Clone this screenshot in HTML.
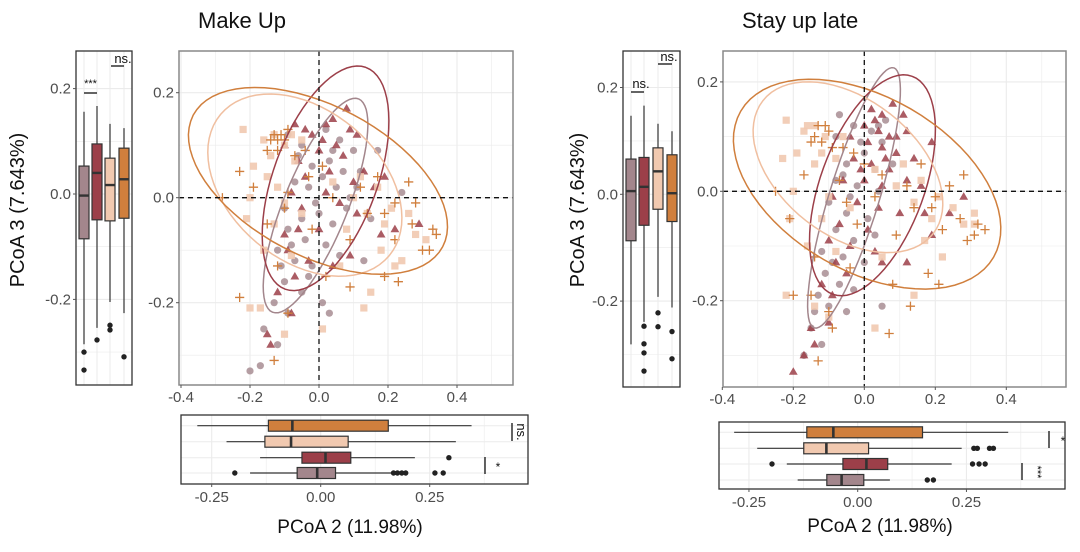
<!DOCTYPE html>
<html><head><meta charset="utf-8"><style>
html,body{margin:0;padding:0;background:#fff;}
svg{display:block;font-family:"Liberation Sans",Arial,sans-serif;}
</style></head><body>
<svg id="fig" width="1080" height="552" viewBox="0 0 1080 552" xmlns="http://www.w3.org/2000/svg">
<text x="198" y="28" font-size="22" fill="#111">Make Up</text>
<text x="742" y="28" font-size="22" fill="#111">Stay up late</text>
</svg>
<script>
// ---------- DATA ----------
const groupNames = ['mauve','red','light','orange'];
const groupColors = ['#a3868c','#9c3f49','#f1c9b0','#d07f3d'];
const scatterXTicks = [-0.4,-0.2,0.0,0.2,0.4];
const scatterXTickLabels = ['-0.4','-0.2','0.0','0.2','0.4'];
const scatterYTicks = [0.2,0.0,-0.2];
const scatterYTickLabels = ['0.2','0.0','-0.2'];
const hboxTicks = [-0.25,0,0.25];
const hboxTickLabels = ['-0.25','0.00','0.25'];

// Make Up: vertical box stats [whiskerLo,q1,median,q3,whiskerHi] per group
const muVBoxes = [[-0.285,-0.085,-0.003,0.053,0.156],[-0.254,-0.049,0.040,0.095,0.167],[-0.205,-0.051,0.017,0.068,0.133],[-0.226,-0.046,0.028,0.087,0.125]];
const muVOutliers = [[-0.30,-0.334],[-0.277],[-0.249,-0.258],[-0.309]];
// Make Up: horizontal box stats (rows top->bottom: orange, light, red, mauve)
const muHBoxes = [[-0.283,-0.120,-0.065,0.155,0.346],[-0.216,-0.128,-0.068,0.063,0.310],[-0.139,-0.043,0.011,0.069,0.216],[-0.162,-0.054,-0.008,0.034,0.164]];
const muHOutliers = [[],[],[0.294],[-0.197,0.167,0.176,0.186,0.195,0.262,0.281]];
const muEllCenters = [[-0.010,-0.015],[0.019,0.037],[-0.041,0.024],[-0.003,0.032]];
const muEllAxes = [[115,32,-68],[118,52,-70],[110,75,40],[141,75,27.8]];

const muMauve = [[-0.09,0.12],[-0.05,0.10],[0.02,0.13],[0.06,0.11],[0.10,0.09],[0.12,0.05],[-0.02,0.06],[0.03,0.07],[-0.07,0.03],[-0.03,0.02],[0.01,0.04],[0.05,0.02],[0.09,0.00],[-0.10,-0.02],[-0.05,-0.04],[0.00,-0.03],[0.04,-0.05],[0.08,-0.02],[-0.09,-0.06],[-0.04,-0.08],[0.02,-0.09],[-0.12,-0.10],[-0.07,-0.12],[-0.02,-0.13],[0.06,-0.11],[-0.10,-0.16],[-0.05,-0.18],[0.01,-0.20],[-0.13,-0.20],[-0.09,-0.22],[-0.16,-0.25],[-0.12,-0.28],[-0.17,-0.32],[-0.20,-0.33],[0.03,-0.22],[0.13,-0.12],[0.15,-0.04],[0.17,0.09],[0.24,0.01],[-0.06,0.08],[-0.01,-0.01],[0.07,0.05],[-0.08,-0.09],[-0.03,-0.15],[0.04,0.09],[-0.11,-0.13],[0.11,0.02]];
const muRed = [[-0.07,0.14],[-0.02,0.12],[0.04,0.15],[0.08,0.17],[0.11,0.12],[0.05,0.10],[-0.10,0.10],[0.00,0.09],[0.07,0.08],[0.13,0.05],[-0.04,0.04],[0.03,0.05],[0.10,0.03],[0.19,0.04],[-0.08,0.01],[0.02,0.01],[0.06,-0.01],[0.16,0.02],[-0.06,-0.06],[0.00,-0.06],[0.11,-0.03],[-0.09,-0.10],[-0.03,-0.12],[0.04,-0.13],[0.09,-0.11],[-0.07,-0.15],[-0.12,-0.18],[-0.08,-0.22],[-0.15,-0.26],[-0.14,-0.28],[0.22,-0.06],[0.29,-0.05],[0.18,-0.07],[-0.04,0.13],[0.01,0.11],[-0.05,-0.02],[0.02,0.14],[-0.06,0.07],[0.09,0.13],[-0.10,-0.07]];
const muLight = [[-0.22,0.13],[-0.16,0.11],[-0.13,0.12],[-0.10,0.10],[-0.05,0.11],[-0.19,0.06],[-0.15,0.04],[-0.12,0.02],[-0.07,0.07],[0.04,0.03],[0.12,0.04],[0.17,0.02],[-0.20,0.00],[-0.10,-0.01],[0.10,0.00],[0.14,-0.03],[0.21,-0.02],[0.26,-0.03],[-0.21,-0.04],[-0.13,-0.05],[-0.05,-0.03],[0.19,-0.05],[0.28,-0.07],[0.31,-0.08],[-0.16,-0.10],[-0.08,-0.11],[0.06,-0.13],[0.18,-0.10],[0.22,-0.13],[-0.20,-0.21],[-0.17,-0.21],[0.15,-0.18],[0.13,-0.21],[0.01,-0.25],[-0.10,-0.26],[0.24,-0.12],[-0.08,0.12],[-0.14,0.08],[0.08,-0.06]];
const muOrange = [[-0.13,0.12],[-0.11,0.12],[-0.10,0.11],[-0.09,0.13],[-0.15,0.09],[-0.12,0.09],[-0.07,0.08],[-0.04,0.09],[-0.03,0.04],[0.01,0.06],[-0.23,0.05],[-0.19,0.02],[0.17,0.04],[0.26,0.03],[-0.09,0.01],[0.12,0.02],[0.22,-0.01],[0.28,-0.01],[-0.28,0.00],[-0.10,-0.02],[0.04,0.00],[0.14,-0.03],[0.19,-0.03],[0.27,-0.05],[0.33,-0.06],[0.34,-0.07],[-0.15,-0.05],[-0.02,-0.06],[0.09,-0.08],[0.22,-0.08],[0.30,-0.10],[0.32,-0.10],[-0.12,-0.13],[0.02,-0.15],[0.09,-0.17],[0.19,-0.15],[0.23,-0.16],[-0.23,-0.19],[-0.09,-0.22],[-0.13,-0.31],[-0.12,0.11],[-0.14,0.11]];

// Stay up late
const slVBoxes = [[-0.281,-0.087,0.006,0.066,0.147],[-0.239,-0.058,0.014,0.069,0.166],[-0.192,-0.028,0.043,0.087,0.132],[-0.212,-0.051,0.002,0.074,0.118]];
const slVOutliers = [[],[-0.247,-0.280,-0.297,-0.331],[-0.222,-0.248],[-0.257,-0.308]];
const slHBoxes = [[-0.284,-0.117,-0.056,0.149,0.346],[-0.231,-0.124,-0.072,0.025,0.239],[-0.163,-0.034,0.020,0.069,0.216],[-0.138,-0.071,-0.037,0.014,0.074]];
const slHOutliers = [[],[0.267,0.275,0.303,0.312],[-0.197,0.264,0.279,0.293],[0.160,0.174]];
const slEllCenters = [[-0.029,-0.012],[0.023,0.011],[-0.046,0.044],[0.008,0.013]];
const slEllAxes = [[136,25,-73],[116,52,-70],[108,68,38],[146,87,30]];

const slMauve = [[-0.07,0.14],[-0.03,0.12],[0.02,0.11],[0.05,0.09],[0.00,0.07],[-0.05,0.05],[0.03,0.04],[-0.08,0.02],[-0.02,0.01],[0.04,0.00],[-0.10,-0.02],[-0.05,-0.04],[0.01,-0.05],[-0.08,-0.07],[-0.03,-0.09],[0.03,-0.08],[-0.12,-0.11],[-0.06,-0.12],[0.00,-0.13],[-0.11,-0.15],[-0.07,-0.17],[-0.03,-0.18],[-0.13,-0.19],[-0.10,-0.21],[-0.05,-0.22],[0.05,-0.21],[-0.15,-0.25],[-0.12,-0.28],[-0.17,-0.30],[-0.08,0.10],[0.06,0.13],[-0.01,0.09],[-0.04,-0.01],[0.08,0.05],[-0.09,-0.13],[-0.14,-0.22],[0.04,0.12],[-0.06,0.03]];
const slRed = [[0.02,0.15],[0.05,0.14],[0.08,0.16],[0.11,0.14],[0.00,0.12],[0.04,0.11],[0.07,0.10],[0.12,0.11],[-0.04,0.10],[0.01,0.09],[0.05,0.08],[0.09,0.07],[0.14,0.06],[0.19,0.09],[-0.03,0.06],[0.02,0.05],[0.07,0.04],[0.12,0.02],[-0.06,0.02],[0.00,0.02],[0.05,0.01],[0.16,0.01],[-0.09,-0.01],[-0.02,-0.02],[0.04,-0.03],[0.10,-0.04],[0.17,-0.04],[-0.07,-0.06],[0.01,-0.07],[-0.10,-0.09],[-0.04,-0.10],[0.03,-0.11],[-0.08,-0.13],[0.05,-0.13],[-0.12,-0.17],[-0.05,-0.15],[-0.09,-0.19],[-0.15,-0.25],[-0.10,-0.24],[-0.14,-0.28],[-0.17,-0.30],[-0.20,-0.33],[0.28,-0.01],[0.24,-0.04],[0.19,-0.08],[0.12,-0.13],[0.03,0.13],[0.06,0.06],[-0.01,0.04],[0.09,0.10]];
const slLight = [[-0.22,0.13],[-0.17,0.11],[-0.14,0.12],[-0.11,0.10],[-0.06,0.10],[-0.19,0.07],[-0.14,0.05],[-0.23,0.06],[-0.08,0.06],[0.03,0.04],[0.11,0.05],[0.16,0.02],[-0.20,0.00],[-0.10,-0.01],[0.09,0.01],[0.14,-0.02],[0.21,-0.01],[0.25,-0.03],[-0.21,-0.05],[-0.12,-0.05],[-0.04,-0.03],[0.19,-0.05],[0.28,-0.06],[0.31,-0.06],[-0.16,-0.10],[-0.08,-0.11],[0.05,-0.12],[0.17,-0.09],[0.22,-0.12],[-0.22,-0.19],[-0.14,-0.21],[0.14,-0.19],[0.03,-0.25],[-0.10,-0.23],[0.31,-0.04],[-0.16,0.12],[-0.12,0.07]];
const slOrange = [[-0.13,0.12],[-0.11,0.12],[-0.10,0.11],[-0.12,0.09],[-0.15,0.09],[-0.09,0.08],[-0.06,0.08],[-0.03,0.07],[0.00,0.05],[-0.17,0.03],[-0.07,0.02],[0.05,0.03],[0.16,0.05],[0.24,0.01],[-0.25,0.00],[0.12,0.01],[0.20,-0.01],[0.28,0.03],[-0.05,-0.02],[0.03,-0.01],[0.14,-0.03],[0.19,-0.03],[0.27,-0.05],[0.32,-0.06],[0.34,-0.07],[-0.21,-0.05],[-0.02,-0.06],[0.09,-0.08],[0.22,-0.07],[0.29,-0.09],[0.31,-0.08],[-0.14,-0.12],[-0.04,-0.14],[0.08,-0.17],[0.18,-0.15],[0.21,-0.17],[-0.20,-0.19],[-0.15,-0.19],[0.07,-0.26],[-0.09,-0.25],[-0.13,-0.31],[0.13,-0.21],[-0.10,-0.22],[-0.14,0.10]];

// ---------- DRAWING ----------
const NS='http://www.w3.org/2000/svg';
const svg=document.getElementById('fig');
function mk(tag,attrs,parent){const e=document.createElementNS(NS,tag);for(const k in attrs)e.setAttribute(k,attrs[k]);(parent||svg).appendChild(e);return e;}
function txt(s,attrs,parent){const e=mk('text',attrs,parent);e.textContent=s;return e;}
const TF=15;

function drawScatter(P,sets,ellC,ellA,tag){
  const g=mk('g',{});
  
  
  const X=v=>P.x0+v*P.kx, Y=v=>P.y0-v*P.ky;
  mk('rect',{x:P.l,y:P.t,width:P.r-P.l,height:P.b-P.t,fill:'#fff'},g);
  for(let v=-0.5;v<=0.6;v+=0.1){const px=X(v);if(px<P.l||px>P.r)continue;
    const maj=Math.abs(Math.round(v*10))%2===0;
    mk('line',{x1:px,x2:px,y1:P.t,y2:P.b,stroke:'#ebebeb','stroke-width':maj?1.1:0.6},g);}
  for(let v=-0.4;v<=0.31;v+=0.1){const py=Y(v);if(py<P.t||py>P.b)continue;
    const maj=Math.abs(Math.round(v*10))%2===0;
    mk('line',{x1:P.l,x2:P.r,y1:py,y2:py,stroke:'#ebebeb','stroke-width':maj?1.1:0.6},g);}
  const shapes=['circle','tri','square','plus'];
  sets.forEach((pts,gi)=>{
    const sg=mk('g',{},g);
    
    
    pts.forEach(p=>{
      const px=X(p[0]),py=Y(p[1]);let e;
      if(shapes[gi]==='circle')e=mk('circle',{cx:px,cy:py,r:3.6,fill:groupColors[0],'fill-opacity':0.8},sg);
      else if(shapes[gi]==='tri')e=mk('path',{d:`M${px},${py-4.6}L${px+4.4},${py+3}L${px-4.4},${py+3}Z`,fill:groupColors[1],'fill-opacity':0.85},sg);
      else if(shapes[gi]==='square')e=mk('rect',{x:px-3.6,y:py-3.6,width:7.2,height:7.2,fill:groupColors[2],'fill-opacity':0.9},sg);
      else e=mk('path',{d:`M${px-4.6},${py}H${px+4.6}M${px},${py-4.6}V${py+4.6}`,stroke:groupColors[3],'stroke-width':1.3},sg);
      
      
    });
  });
  const ellColors=['#a3868c','#9c3f49','#f0bfa0','#d07f3d'];
  ellC.forEach((c,i)=>{
    const cx=X(c[0]),cy=Y(c[1]),a=ellA[i][0],b=ellA[i][1],th=ellA[i][2]*Math.PI/180;
    let d='';
    for(let k=0;k<=72;k++){const t=k/72*2*Math.PI;
      const px=cx+a*Math.cos(t)*Math.cos(th)-b*Math.sin(t)*Math.sin(th);
      const py=cy+a*Math.cos(t)*Math.sin(th)+b*Math.sin(t)*Math.cos(th);
      d+=(k?'L':'M')+px.toFixed(1)+','+py.toFixed(1);}
    const e=mk('path',{d:d,fill:'none',stroke:ellColors[i],'stroke-width':1.5},g);
    
    
  });
  mk('line',{x1:X(0),x2:X(0),y1:P.t,y2:P.b,stroke:'#111','stroke-width':1.3,'stroke-dasharray':'5,4'},g);
  mk('line',{x1:P.l,x2:P.r,y1:Y(0),y2:Y(0),stroke:'#111','stroke-width':1.3,'stroke-dasharray':'5,4'},g);
  mk('rect',{x:P.l,y:P.t,width:P.r-P.l,height:P.b-P.t,fill:'none',stroke:'#888','stroke-width':1.5},g);
  scatterXTicks.forEach((v,i)=>{mk('line',{x1:X(v),x2:X(v),y1:P.b,y2:P.b+3,stroke:'#555'},g);
    const t=txt(scatterXTickLabels[i],{x:X(v),y:P.b+17,'font-size':TF,fill:'#4d4d4d','text-anchor':'middle'},g);
    });
  scatterYTicks.forEach((v,i)=>{mk('line',{x1:P.l-3,x2:P.l,y1:Y(v),y2:Y(v),stroke:'#555'},g);
    const t=txt(scatterYTickLabels[i],{x:P.l-5,y:Y(v)+5,'font-size':TF,fill:'#4d4d4d','text-anchor':'end'},g);
    });
}

function drawVBox(P,boxes,outs,tag){
  const g=mk('g',{});
  
  
  const Y=v=>P.y0-v*P.ky;
  for(let v=-0.3;v<=0.31;v+=0.1){const py=Y(v);if(py<P.t||py>P.b)continue;
    mk('line',{x1:P.l,x2:P.r,y1:py,y2:py,stroke:'#ebebeb','stroke-width':Math.abs(Math.round(v*10))%2===0?1.1:0.6},g);}
  P.cx.forEach(cx=>mk('line',{x1:cx,x2:cx,y1:P.t,y2:P.b,stroke:'#ebebeb','stroke-width':1},g));
  boxes.forEach((s,i)=>{const cx=P.cx[i],w=10;
    const bg=mk('g',{},g);
    
    
    mk('line',{x1:cx,x2:cx,y1:Y(s[0]),y2:Y(s[4]),stroke:'#333','stroke-width':1.2},bg);
    mk('rect',{x:cx-w/2,y:Y(s[3]),width:w,height:Y(s[1])-Y(s[3]),fill:groupColors[i],stroke:'#333','stroke-width':1.2},bg);
    mk('line',{x1:cx-w/2,x2:cx+w/2,y1:Y(s[2]),y2:Y(s[2]),stroke:'#333','stroke-width':2.4},bg);
    outs[i].forEach(o=>mk('circle',{cx:cx,cy:Y(o),r:2.7,fill:'#222'},bg));});
  mk('rect',{x:P.l,y:P.t,width:P.r-P.l,height:P.b-P.t,fill:'none',stroke:'#333','stroke-width':1.3},g);
  scatterYTicks.forEach((v,i)=>{mk('line',{x1:P.l-3,x2:P.l,y1:Y(v),y2:Y(v),stroke:'#555'},g);
    const t=txt(scatterYTickLabels[i],{x:P.l-5,y:Y(v)+5,'font-size':TF,fill:'#4d4d4d','text-anchor':'end'},g);
    });
  return g;
}

function drawHBox(P,boxes,outs,tag){
  const g=mk('g',{});
  
  
  const X=v=>P.x0+v*P.kx;
  for(let k=-3;k<=4;k++){const v=k*0.125,px=X(v);if(px<P.l||px>P.r)continue;
    mk('line',{x1:px,x2:px,y1:P.t,y2:P.b,stroke:'#ebebeb','stroke-width':k%2===0?1.1:0.6},g);}
  P.cy.forEach(cy=>mk('line',{x1:P.l,x2:P.r,y1:cy,y2:cy,stroke:'#ebebeb','stroke-width':1},g));
  const order=[3,2,1,0];
  boxes.forEach((s,i)=>{const cy=P.cy[i],h=11,gi=order[i];
    const bg=mk('g',{},g);
    
    
    mk('line',{x1:X(s[0]),x2:X(s[4]),y1:cy,y2:cy,stroke:'#333','stroke-width':1.2},bg);
    mk('rect',{x:X(s[1]),y:cy-h/2,width:X(s[3])-X(s[1]),height:h,fill:groupColors[gi],stroke:'#333','stroke-width':1.2},bg);
    mk('line',{x1:X(s[2]),x2:X(s[2]),y1:cy-h/2,y2:cy+h/2,stroke:'#333','stroke-width':2.6},bg);
    outs[i].forEach(o=>mk('circle',{cx:X(o),cy:cy,r:2.7,fill:'#222'},bg));});
  mk('rect',{x:P.l,y:P.t,width:P.r-P.l,height:P.b-P.t,fill:'none',stroke:'#333','stroke-width':1.3},g);
  hboxTicks.forEach((v,i)=>{mk('line',{x1:X(v),x2:X(v),y1:P.b,y2:P.b+3,stroke:'#555'},g);
    const t=txt(hboxTickLabels[i],{x:X(v),y:P.b+18,'font-size':TF,fill:'#4d4d4d','text-anchor':'middle'},g);
    });
  return g;
}

// ---- Make Up ----
const vL=drawVBox({l:76,r:132,t:51,b:385,y0:194,ky:527,cx:[84,97,110,124]},muVBoxes,muVOutliers,'make-up');
drawScatter({l:179,r:513,t:51,b:385,x0:319,kx:345,y0:197.7,ky:525},[muMauve,muRed,muLight,muOrange],muEllCenters,muEllAxes,'make-up');
const hL=drawHBox({l:181,r:528,t:415,b:484,x0:320.7,kx:436,cy:[425.7,441.7,457.7,473]},muHBoxes,muHOutliers,'make-up');
mk('line',{x1:84,x2:97,y1:93,y2:93,stroke:'#111','stroke-width':1.3},vL);
txt('***',{x:90.5,y:87,'font-size':11,'text-anchor':'middle',fill:'#111'},vL);
mk('line',{x1:111,x2:124,y1:66,y2:66,stroke:'#111','stroke-width':1.3},vL);
txt('ns.',{x:123,y:63,'font-size':13,'text-anchor':'middle',fill:'#111'},vL);
mk('line',{x1:512,x2:512,y1:423,y2:441,stroke:'#111','stroke-width':1.3},hL);
txt('ns.',{x:517,y:432,'font-size':13,'text-anchor':'middle',fill:'#111',transform:'rotate(90 517 432)'},hL);
mk('line',{x1:485,x2:485,y1:457,y2:474,stroke:'#111','stroke-width':1.3},hL);
txt('*',{x:498,y:471,'font-size':12,'text-anchor':'middle',fill:'#111'},hL);
let t;
t=txt('PCoA 3 (7.643%)',{x:0,y:0,'font-size':20,'text-anchor':'middle',fill:'#111',transform:'translate(24 210) rotate(-90)'});

t=txt('PCoA 2 (11.98%)',{x:350,y:533,'font-size':19,'text-anchor':'middle',fill:'#111'});


// ---- Stay up late ----
const vR=drawVBox({l:623,r:680,t:51,b:387,y0:194.3,ky:534,cx:[631,644,658,672]},slVBoxes,slVOutliers,'stay-up-late');
drawScatter({l:723,r:1066,t:51,b:387,x0:864.3,kx:355,y0:191.3,ky:547},[slMauve,slRed,slLight,slOrange],slEllCenters,slEllAxes,'stay-up-late');
const hR=drawHBox({l:719,r:1065,t:422,b:489,x0:857.7,kx:435,cy:[432.3,448.3,464,480]},slHBoxes,slHOutliers,'stay-up-late');
mk('line',{x1:631,x2:644,y1:92,y2:92,stroke:'#111','stroke-width':1.3},vR);
txt('ns.',{x:641,y:88,'font-size':13,'text-anchor':'middle',fill:'#111'},vR);
mk('line',{x1:658,x2:672,y1:64,y2:64,stroke:'#111','stroke-width':1.3},vR);
txt('ns.',{x:669,y:61,'font-size':13,'text-anchor':'middle',fill:'#111'},vR);
mk('line',{x1:1049,x2:1049,y1:431,y2:448,stroke:'#111','stroke-width':1.3},hR);
txt('*',{x:1063,y:445,'font-size':12,'text-anchor':'middle',fill:'#111'},hR);
mk('line',{x1:1022,x2:1022,y1:463,y2:480,stroke:'#111','stroke-width':1.3},hR);
txt('***',{x:1034,y:472,'font-size':11,'text-anchor':'middle',fill:'#111',transform:'rotate(90 1034 472)'},hR);
t=txt('PCoA 3 (7.643%)',{x:0,y:0,'font-size':20,'text-anchor':'middle',fill:'#111',transform:'translate(584 210) rotate(-90)'});

t=txt('PCoA 2 (11.98%)',{x:880,y:532,'font-size':19,'text-anchor':'middle',fill:'#111'});

</script>
</body></html>
